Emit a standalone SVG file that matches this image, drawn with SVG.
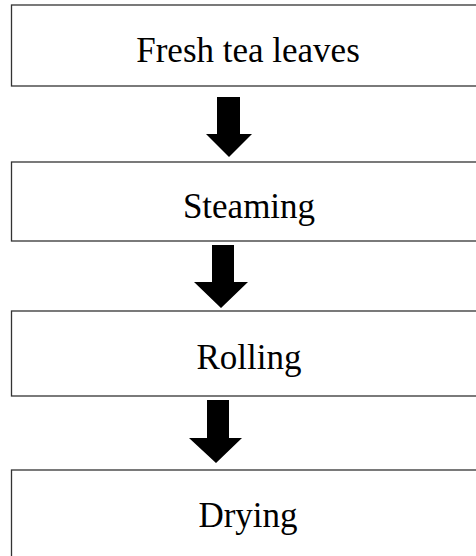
<svg xmlns="http://www.w3.org/2000/svg" width="476" height="556" viewBox="0 0 476 556">
<style>
.box{fill:#fff;stroke:#333;stroke-width:1.3}
.lbl{font-family:"Liberation Serif","Times New Roman",serif;font-size:35px;fill:#000;text-anchor:middle}
.arr{fill:#000}
</style>
<rect width="476" height="556" fill="#fff"/>
<g id="n1"><rect class="box" x="11.5" y="5" width="474" height="81"/><text class="lbl" x="248" y="62">Fresh tea leaves</text></g>
<g id="n2"><rect class="box" x="11.5" y="162" width="474" height="79"/><text class="lbl" x="249" y="218">Steaming</text></g>
<g id="n3"><rect class="box" x="11.5" y="311" width="474" height="85"/><text class="lbl" x="249" y="369">Rolling</text></g>
<g id="n4"><rect class="box" x="11.5" y="470" width="474" height="100"/><text class="lbl" x="248" y="527">Drying</text></g>
<g id="connectors">
<polygon class="arr" points="217,97 240,97 240,134 252,134 229,157 206,134 217,134"/>
<polygon class="arr" points="212,245 234,245 234,282 248,282 221,308 194,282 212,282"/>
<polygon class="arr" points="207,400 229,400 229,438 242,438 216,463 189,438 207,438"/>
</g>
</svg>
